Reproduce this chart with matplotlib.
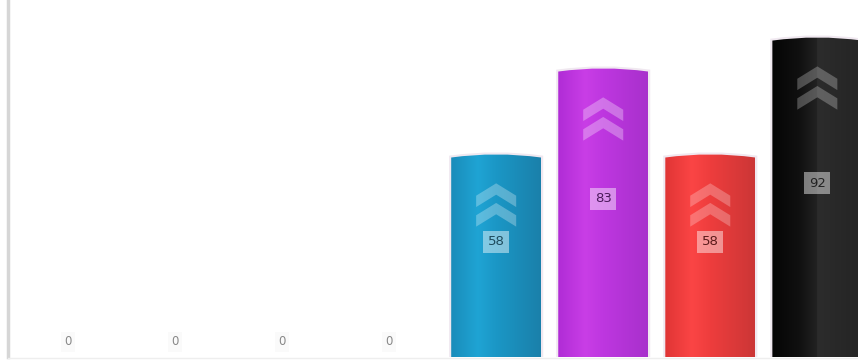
import numpy as np
import matplotlib
matplotlib.use("Agg")
import matplotlib.pyplot as plt
from matplotlib.path import Path
from matplotlib.patches import PathPatch, Polygon
from matplotlib.colors import to_rgb

# chart data
values = [0, 0, 0, 0, 58, 83, 58, 92]
bar_colors = [
    ["#1a8cba", "#1fa4d4", "#1b97c6", "#1a80aa"],
    ["#b02cd6", "#c93ee6", "#be37e0", "#a830cc"],
    ["#e03535", "#fb4545", "#ee3d3d", "#cc3636"],
    ["#050505", "#101010", "#222222", "#1a1a1a"],
]
chevron_alpha = [0.28, 0.3, 0.25, 0.25]
label_colors = ["#1d4a5c", "#4a1a5a", "#5a1a1a", "#222222"]

BAR_W = 0.84
fig = plt.figure(figsize=(8.58, 3.6), dpi=100)
ax = fig.add_axes([8 / 858, 3 / 360, 850 / 858, 357 / 360])
ax.set_xlim(-0.56, 7.38)
ax.set_ylim(0, 103.8)
ax.axis("off")

# left axis + baseline
ax.plot([-0.56, -0.56], [0, 103.8], color="#d6d6d6", lw=2.5, clip_on=False)
ax.plot([-0.56, 7.38], [-0.3, -0.3], color="#eeeeee", lw=1, clip_on=False)


def bar_path(x0, x1, h, bump=0.9):
    xm = (x0 + x1) / 2
    verts = [(x0, 0), (x0, h), (xm, h + 2 * bump), (x1, h), (x1, 0), (x0, 0)]
    codes = [Path.MOVETO, Path.LINETO, Path.CURVE3, Path.CURVE3,
             Path.LINETO, Path.CLOSEPOLY]
    return Path(verts, codes)


def chevron(xc, ytop, w=0.187, t=3.3, d=3.6):
    return [(xc - w, ytop - d), (xc, ytop), (xc + w, ytop - d),
            (xc + w, ytop - d - t), (xc, ytop - t), (xc - w, ytop - d - t)]


k = 0
for i, v in enumerate(values):
    if v == 0:
        ax.text(i, 4.4, "0", ha="center", va="center", fontsize=8.5,
                color="#888888",
                bbox=dict(boxstyle="square,pad=0.3", fc="#fafafa", ec="none"))
        continue
    x0, x1 = i - BAR_W / 2, i + BAR_W / 2
    path = bar_path(x0, x1, v)
    # soft glow outline
    ax.add_patch(PathPatch(path, fc="none", ec="#f0e8f0", lw=3, zorder=1))
    patch = PathPatch(path, fc="none", ec="none", zorder=2)
    ax.add_patch(patch)
    stops = [np.array(to_rgb(c)) for c in bar_colors[k]]
    pos = [0.0, 0.3, 0.5, 1.0]
    xs = np.linspace(0, 1, 200)
    grad = np.stack([np.interp(xs, pos, [s[j] for s in stops]) for j in range(3)], axis=-1)
    if k == 3:
        grad[xs >= 0.5] = np.clip(grad[xs >= 0.5] + 0.04, 0, 1)
    img = ax.imshow(grad[np.newaxis, :, :], extent=[x0, x1, 0, v + 3],
                    aspect="auto", zorder=2, interpolation="bilinear")
    img.set_clip_path(patch)

    # chevrons
    top_chev = v - 7.5
    for off in (0, 5.7):
        ax.add_patch(Polygon(chevron(i, top_chev - off), closed=True,
                             fc="white", ec="none", alpha=chevron_alpha[k], zorder=3))

    ax.text(i, v / 2 + 4.5, str(v), ha="center", va="center", fontsize=9.5,
            color=label_colors[k], zorder=4,
            bbox=dict(boxstyle="square,pad=0.35", fc="white", ec="none", alpha=0.45))
    k += 1

fig.savefig("out.png", dpi=100)
